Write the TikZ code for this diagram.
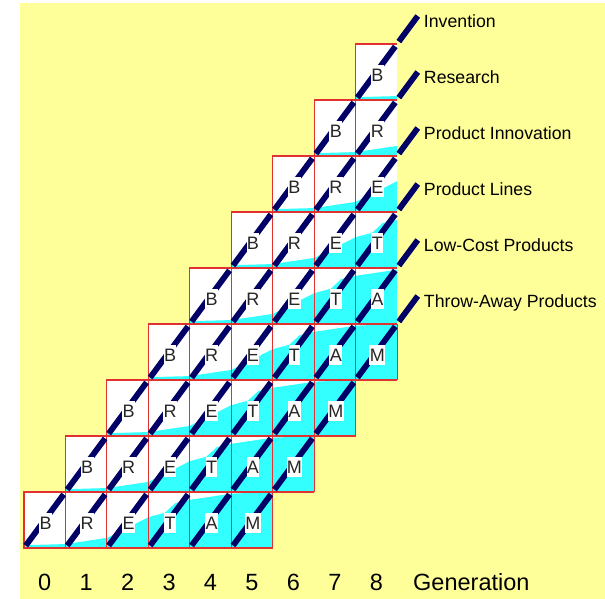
\documentclass[tikz,border=0pt]{standalone}
\usepackage{fontspec}
\setmainfont{Liberation Sans}
\definecolor{bgyellow}{RGB}{255,255,153}
\definecolor{cyanfill}{RGB}{51,255,255}
\definecolor{gridred}{RGB}{225,50,50}
\definecolor{navyline}{RGB}{0,0,102}
\tikzset{
  cellletter/.style={fill=white, inner xsep=0.4pt, inner ysep=3.5pt, font=\fontsize{18}{20}\selectfont, text=black!85},
  curveline/.style={draw=navyline, line width=5.8pt, shorten <=3pt, shorten >=3pt},
  redgrid/.style={draw=gridred, line width=1.1pt},
  curvelabel/.style={anchor=base west, font=\fontsize{17.7}{20}\selectfont, inner sep=0pt},
  axislabel/.style={anchor=base, font=\fontsize{23.5}{26}\selectfont, inner sep=0pt}
}
\begin{document}
\begin{tikzpicture}[x=1pt,y=1pt]
\useasboundingbox (0,0) rectangle (605,599);
\fill[bgyellow] (20,0) rectangle (605,596);
\begin{scope}[shift={(24,51)}, x=41.45pt, y=56pt]
  % white cells
  \foreach \r in {0,...,8}{
    \pgfmathtruncatemacro\ce{min(\r+5,8)}
    \fill[white] (\r,\r) rectangle (\ce+1,\r+1);
  }
  % cyan S-curves
  \foreach \r in {0,...,8}{
    \pgfmathtruncatemacro\cw{min(\r+5,8)+1-\r}
    \begin{scope}[shift={(\r,\r)}]
      \clip (0,0) rectangle (\cw,1);
      \fill[cyanfill] (0,0) -- (0,0.05) -- (1,0.07) -- (2,0.18) -- (2.6,0.4) -- (3,0.55)
        -- (3.4,0.63) -- (3.65,0.8) -- (4,0.86) -- (5,0.97) -- (6,1) -- (6,0) -- cycle;
    \end{scope}
  }
  % red grid
  \foreach \r in {0,...,8}{
    \pgfmathtruncatemacro\ce{min(\r+5,8)}
    \foreach \c in {\r,...,\ce}{
      \draw[redgrid] (\c+1,\r) -- (\c,\r) -- (\c,\r+1) -- (\c+1,\r+1);
    }
  }
  \foreach \r in {0,...,3}{
    \draw[redgrid] (\r+6,\r) -- (\r+6,\r+1);
  }
  % coordinates along the curves
  \foreach \k in {0,...,5}{
    \pgfmathtruncatemacro\jm{9-\k}
    \foreach \j in {0,...,\jm}{
      \coordinate (L\k-\j) at (\k+\j,\j);
    }
    \coordinate (L\k-end) at (9.5,9.5-\k);
  }
  % navy lines
  \foreach \k in {0,...,5}{
    \pgfmathtruncatemacro\jl{8-\k}
    \foreach \j in {0,...,\jl}{
      \pgfmathtruncatemacro\jn{\j+1}
      \draw[curveline] (L\k-\j) -- (L\k-\jn);
    }
    \pgfmathtruncatemacro\jm{9-\k}
    \draw[curveline, shorten >=0pt] (L\k-\jm) -- (L\k-end);
  }
  % letters
  \foreach \r in {0,...,8}{
    \pgfmathtruncatemacro\ce{min(\r+5,8)}
    \foreach \c in {\r,...,\ce}{
      \pgfmathtruncatemacro\k{\c-\r}
      \node[cellletter] (cell-\c-\r) at ([xshift=1pt,yshift=-3pt]\c+0.5,\r+0.5)
        {\ifcase\k B\or R\or E\or T\or A\or M\fi};
    }
  }
  % curve labels
  \foreach \k/\t in {0/Invention,1/Research,2/Product Innovation,3/Product Lines,4/Low-Cost Products,5/Throw-Away Products}{
    \node[curvelabel] (lab\k) at ([xshift=6pt,yshift=-11.5pt]L\k-end) {\t};
  }
\end{scope}
% generation axis
\foreach \c in {0,...,8}{
  \node[axislabel] (gen\c) at (24+\c*41.45+20.7,8.5) {\c};
}
\node[axislabel, anchor=base west] (genlabel) at (413,8.5) {Generation};
\end{tikzpicture}
\end{document}
